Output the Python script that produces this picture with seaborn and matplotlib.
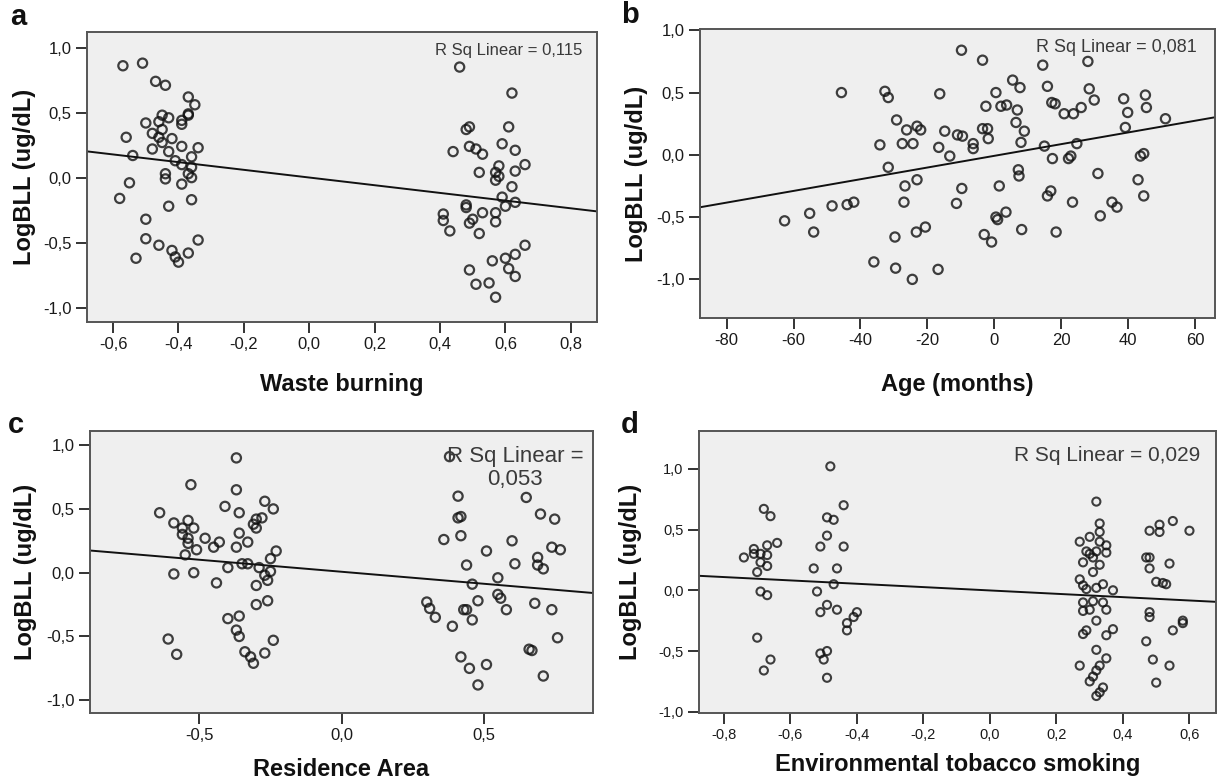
import numpy as np
import pandas as pd
import seaborn as sns
import matplotlib.pyplot as plt

# values
waste_x = [-0.57, -0.51, -0.47, -0.44, -0.37, -0.35, -0.50, -0.46, -0.45, -0.43, -0.39, -0.39,
           -0.37, -0.37, -0.48, -0.45, -0.46, -0.42, -0.56, -0.48, -0.45, -0.43, -0.39, -0.34,
           -0.54, -0.41, -0.39, -0.36, -0.37, -0.36, -0.36, -0.44, -0.44, -0.39, -0.55, -0.58,
           -0.36, -0.43, -0.50, -0.50, -0.46, -0.34, -0.42, -0.41, -0.37, -0.40, -0.53,
           0.46, 0.62, 0.61, 0.48, 0.49, 0.44, 0.49, 0.51, 0.53, 0.59, 0.63, 0.66, 0.58, 0.52,
           0.57, 0.58, 0.57, 0.63, 0.62, 0.59, 0.48, 0.48, 0.41, 0.41, 0.43, 0.53, 0.50, 0.49,
           0.52, 0.57, 0.57, 0.60, 0.63, 0.66, 0.56, 0.60, 0.63, 0.61, 0.63, 0.49, 0.51, 0.55,
           0.57]
waste_y = [0.86, 0.88, 0.74, 0.71, 0.62, 0.56, 0.42, 0.43, 0.48, 0.46, 0.44, 0.41,
           0.48, 0.49, 0.34, 0.37, 0.31, 0.30, 0.31, 0.22, 0.27, 0.20, 0.24, 0.23,
           0.17, 0.13, 0.10, 0.16, 0.03, 0.08, 0.00, 0.03, -0.01, -0.05, -0.04, -0.16,
           -0.17, -0.22, -0.32, -0.47, -0.52, -0.48, -0.56, -0.61, -0.58, -0.65, -0.62,
           0.85, 0.65, 0.39, 0.37, 0.39, 0.20, 0.24, 0.22, 0.18, 0.26, 0.21, 0.10, 0.09, 0.04,
           0.04, 0.01, -0.02, 0.05, -0.07, -0.15, -0.21, -0.23, -0.28, -0.33, -0.41, -0.27,
           -0.32, -0.35, -0.43, -0.27, -0.34, -0.22, -0.19, -0.52, -0.64, -0.62, -0.59, -0.70,
           -0.76, -0.71, -0.82, -0.81, -0.92]

age_x = [-45.7, -32.7, -31.7, -29.2, -26.2, -27.5, -34.2, -31.7, -26.7, -27.0, -62.7, -55.2,
         -54.0, -48.5, -44.0, -42.0, -29.7, -36.0, -29.5, -24.5,
         -9.8, -3.5, 14.5, 28.0, -16.3, 5.5, 7.7, 0.5, 15.9, 28.4, 29.9, 38.7, 45.2, 45.5,
         39.9, -2.5, 2.0, 3.7, 6.9, 17.2, 18.2, 20.9, 23.7, 26.0, 6.5, 9.0, 8.0, 51.2, 39.2,
         -23.1, -22.0, -24.3, -14.8, -16.6, -13.3, -11.0, -9.5, -6.3, -6.3, -3.5, -2.0, -1.8,
         15.0, 17.4, 22.2, 22.9, 24.7, 43.7, 44.7, 7.2, 7.4, -23.1, -9.7, 1.5, 31.0, 43.0,
         16.9, 15.9, -11.3, 23.4, 35.2, 36.7, 44.7, 31.7, 0.5, 1.0, 3.5, -23.3, -20.6, -3.0,
         -0.8, 8.2, 18.5, -16.8]
age_y = [0.50, 0.51, 0.46, 0.28, 0.20, 0.09, 0.08, -0.10, -0.25, -0.38, -0.53, -0.47,
         -0.62, -0.41, -0.40, -0.38, -0.66, -0.86, -0.91, -1.00,
         0.84, 0.76, 0.72, 0.75, 0.49, 0.60, 0.54, 0.50, 0.55, 0.53, 0.44, 0.45, 0.48, 0.38,
         0.34, 0.39, 0.39, 0.40, 0.36, 0.42, 0.41, 0.33, 0.33, 0.38, 0.26, 0.19, 0.10, 0.29, 0.22,
         0.23, 0.20, 0.09, 0.19, 0.06, -0.01, 0.16, 0.15, 0.09, 0.05, 0.21, 0.21, 0.13,
         0.07, -0.03, -0.03, -0.01, 0.09, -0.01, 0.01, -0.12, -0.17, -0.20, -0.27, -0.25, -0.15, -0.20,
         -0.29, -0.33, -0.39, -0.38, -0.38, -0.42, -0.33, -0.49, -0.50, -0.52, -0.46, -0.62, -0.58, -0.64,
         -0.70, -0.60, -0.62, -0.92]

area_x = [-0.37, -0.53, -0.37, -0.64, -0.54, -0.41, -0.36, -0.27, -0.24, -0.31, -0.30, -0.28,
          -0.30, -0.59, -0.56, -0.52, -0.56, -0.54, -0.48, -0.36, -0.43, -0.45, -0.54, -0.51,
          -0.33, -0.37, -0.55, -0.23, -0.25, -0.59, -0.52, -0.40, -0.35, -0.33, -0.29, -0.25,
          -0.44, -0.30, -0.26, -0.27, -0.30, -0.26, -0.40, -0.36, -0.37, -0.36, -0.24, -0.61,
          -0.58, -0.34, -0.32, -0.31, -0.27,
          0.38, 0.41, 0.65, 0.41, 0.42, 0.70, 0.75, 0.42, 0.36, 0.60, 0.51, 0.74, 0.77, 0.69,
          0.61, 0.69, 0.71, 0.44, 0.55, 0.46, 0.55, 0.56, 0.48, 0.58, 0.68, 0.74, 0.30, 0.31,
          0.33, 0.39, 0.43, 0.44, 0.46, 0.76, 0.66, 0.67, 0.42, 0.45, 0.51, 0.48, 0.71]
area_y = [0.90, 0.69, 0.65, 0.47, 0.41, 0.52, 0.47, 0.56, 0.50, 0.38, 0.42, 0.43,
          0.35, 0.39, 0.35, 0.35, 0.30, 0.27, 0.27, 0.31, 0.24, 0.20, 0.23, 0.18,
          0.24, 0.20, 0.14, 0.17, 0.11, -0.01, 0.00, 0.04, 0.07, 0.07, 0.04, 0.01,
          -0.08, -0.10, -0.06, -0.02, -0.25, -0.22, -0.36, -0.34, -0.45, -0.50, -0.53, -0.52,
          -0.64, -0.62, -0.66, -0.71, -0.63,
          0.91, 0.60, 0.59, 0.43, 0.44, 0.46, 0.42, 0.29, 0.26, 0.25, 0.17, 0.20, 0.18, 0.12,
          0.07, 0.06, 0.03, 0.06, -0.04, -0.09, -0.17, -0.20, -0.22, -0.29, -0.24, -0.29, -0.23, -0.28,
          -0.35, -0.42, -0.29, -0.29, -0.37, -0.51, -0.60, -0.61, -0.66, -0.75, -0.72, -0.88, -0.81]

smoke_x = [-0.48, -0.44, -0.68, -0.66, -0.49, -0.47, -0.49, -0.44, -0.51, -0.64, -0.67, -0.74,
           -0.71, -0.71, -0.69, -0.67, -0.69, -0.67, -0.70, -0.53, -0.46, -0.47, -0.69, -0.67,
           -0.52, -0.49, -0.51, -0.46, -0.40, -0.41, -0.43, -0.43, -0.70, -0.66, -0.68, -0.51,
           -0.50, -0.49, -0.49,
           0.32, 0.33, 0.55, 0.51, 0.51, 0.48, 0.60, 0.33, 0.30, 0.27, 0.33, 0.35, 0.29, 0.30,
           0.32, 0.35, 0.31, 0.28, 0.33, 0.31, 0.47, 0.48, 0.48, 0.54, 0.50, 0.52, 0.53, 0.27,
           0.28, 0.29, 0.32, 0.34, 0.37, 0.28, 0.31, 0.34, 0.28, 0.30, 0.35, 0.48, 0.48, 0.32,
           0.58, 0.58, 0.55, 0.29, 0.28, 0.37, 0.35, 0.47, 0.32, 0.35, 0.49, 0.54, 0.27, 0.33,
           0.32, 0.31, 0.30, 0.50, 0.34, 0.33, 0.32]
smoke_y = [1.02, 0.70, 0.67, 0.61, 0.60, 0.58, 0.45, 0.36, 0.36, 0.39, 0.37, 0.27,
           0.34, 0.30, 0.30, 0.29, 0.23, 0.20, 0.15, 0.18, 0.18, 0.05, -0.01, -0.04,
           -0.01, -0.12, -0.18, -0.16, -0.18, -0.22, -0.27, -0.33, -0.39, -0.57, -0.66, -0.52,
           -0.57, -0.50, -0.72,
           0.73, 0.55, 0.57, 0.54, 0.48, 0.49, 0.49, 0.48, 0.44, 0.40, 0.40, 0.37, 0.32, 0.30,
           0.32, 0.31, 0.27, 0.23, 0.21, 0.15, 0.27, 0.27, 0.18, 0.22, 0.07, 0.06, 0.05, 0.09,
           0.04, 0.01, 0.02, 0.05, 0.00, -0.10, -0.09, -0.10, -0.17, -0.16, -0.16, -0.18, -0.22, -0.25,
           -0.25, -0.27, -0.33, -0.33, -0.36, -0.32, -0.37, -0.42, -0.49, -0.56, -0.57, -0.62, -0.62, -0.62,
           -0.66, -0.71, -0.75, -0.76, -0.80, -0.84, -0.87]

sns.set_style("ticks", {"axes.facecolor": "#efefef", "axes.edgecolor": "#555555"})
plt.rcParams['font.family'] = ['Liberation Sans', 'DejaVu Sans']

INK = "#111111"


def fmt1(v):
    return f"{round(v, 1) + 0.0:.1f}".replace('.', ',')


def draw_panel(ax, x, y, xlim, ylim, xticks, xlabel, xfmt, size, lw, tick_fs, xlab_y, ylab_x):
    ax.set_xlim(xlim)
    ax.set_ylim(ylim)
    df = pd.DataFrame({'x': x, 'y': y})
    sns.regplot(data=df, x='x', y='y', ax=ax, ci=None, truncate=False,
                scatter_kws=dict(s=size, facecolors='none', edgecolors=INK, linewidths=lw),
                line_kws=dict(color=INK, lw=1.4), color=INK)
    ax.set_xlim(xlim)
    ax.set_ylim(ylim)
    yticks = [-1.0, -0.5, 0.0, 0.5, 1.0]
    ax.set_xticks(xticks)
    ax.set_xticklabels([xfmt(v) for v in xticks])
    ax.set_yticks(yticks)
    ax.set_yticklabels([fmt1(v) for v in yticks])
    ax.tick_params(direction='out', length=8, width=1.4, color='#333333', labelcolor='#1a1a1a',
                   labelsize=tick_fs, pad=3, top=False, right=False)
    for sp in ax.spines.values():
        sp.set_visible(True)
        sp.set_linewidth(1.4)
    ax.set_xlabel(xlabel, fontsize=17, fontweight='bold', color='#111111')
    ax.set_ylabel('LogBLL (ug/dL)', fontsize=17, fontweight='bold', color='#111111')
    ax.xaxis.set_label_coords(0.5, xlab_y)
    ax.yaxis.set_label_coords(ylab_x, 0.5)


fig = plt.figure(figsize=(12.18, 7.83), dpi=100)
ax_a = fig.add_axes([0.0714, 0.5888, 0.4187, 0.3704])
ax_b = fig.add_axes([0.5747, 0.5939, 0.4228, 0.3690])
ax_c = fig.add_axes([0.0739, 0.0894, 0.4130, 0.3600])
ax_d = fig.add_axes([0.5739, 0.0894, 0.4245, 0.3600])

draw_panel(ax_a, waste_x, waste_y, (-0.68, 0.88), (-1.11, 1.12),
           [-0.6, -0.4, -0.2, 0.0, 0.2, 0.4, 0.6, 0.8], 'Waste burning', fmt1, 44, 1.6, 12, -0.175, -0.10)
draw_panel(ax_b, age_x, age_y, (-88, 66), (-1.31, 1.01),
           [-80, -60, -40, -20, 0, 20, 40, 60], 'Age (months)', lambda v: f"{v:.0f}", 44, 1.6, 12, -0.19, -0.10)
draw_panel(ax_c, area_x, area_y, (-0.885, 0.885), (-1.10, 1.11),
           [-0.5, 0.0, 0.5], 'Residence Area', fmt1, 44, 1.6, 12, -0.16, -0.105)
draw_panel(ax_d, smoke_x, smoke_y, (-0.875, 0.68), (-1.01, 1.31),
           [-0.8, -0.6, -0.4, -0.2, 0.0, 0.2, 0.4, 0.6], 'Environmental tobacco smoking', fmt1, 34, 1.5, 10.5, -0.142, -0.11)

rsq_color = "#3a3a3a"
ax_a.text(0.972, 0.935, 'R Sq Linear = 0,115', transform=ax_a.transAxes, ha='right', va='center',
          fontsize=12, color=rsq_color)
ax_b.text(0.965, 0.935, 'R Sq Linear = 0,081', transform=ax_b.transAxes, ha='right', va='center',
          fontsize=13, color=rsq_color)
ax_c.text(0.845, 0.87, 'R Sq Linear =\n0,053', transform=ax_c.transAxes, ha='center', va='center',
          multialignment='center', fontsize=16, color=rsq_color, linespacing=1.1)
ax_d.text(0.97, 0.915, 'R Sq Linear = 0,029', transform=ax_d.transAxes, ha='right', va='center',
          fontsize=15, color=rsq_color)

for letter, (px, py) in zip('abcd', [(18, 17), (630, 15), (16, 425), (630, 425)]):
    fig.text(px / 1218, 1 - py / 783, letter, fontsize=21, fontweight='bold',
             ha='center', va='center', color='#111111')

fig.savefig('out.png', dpi=100)
plt.close(fig)
